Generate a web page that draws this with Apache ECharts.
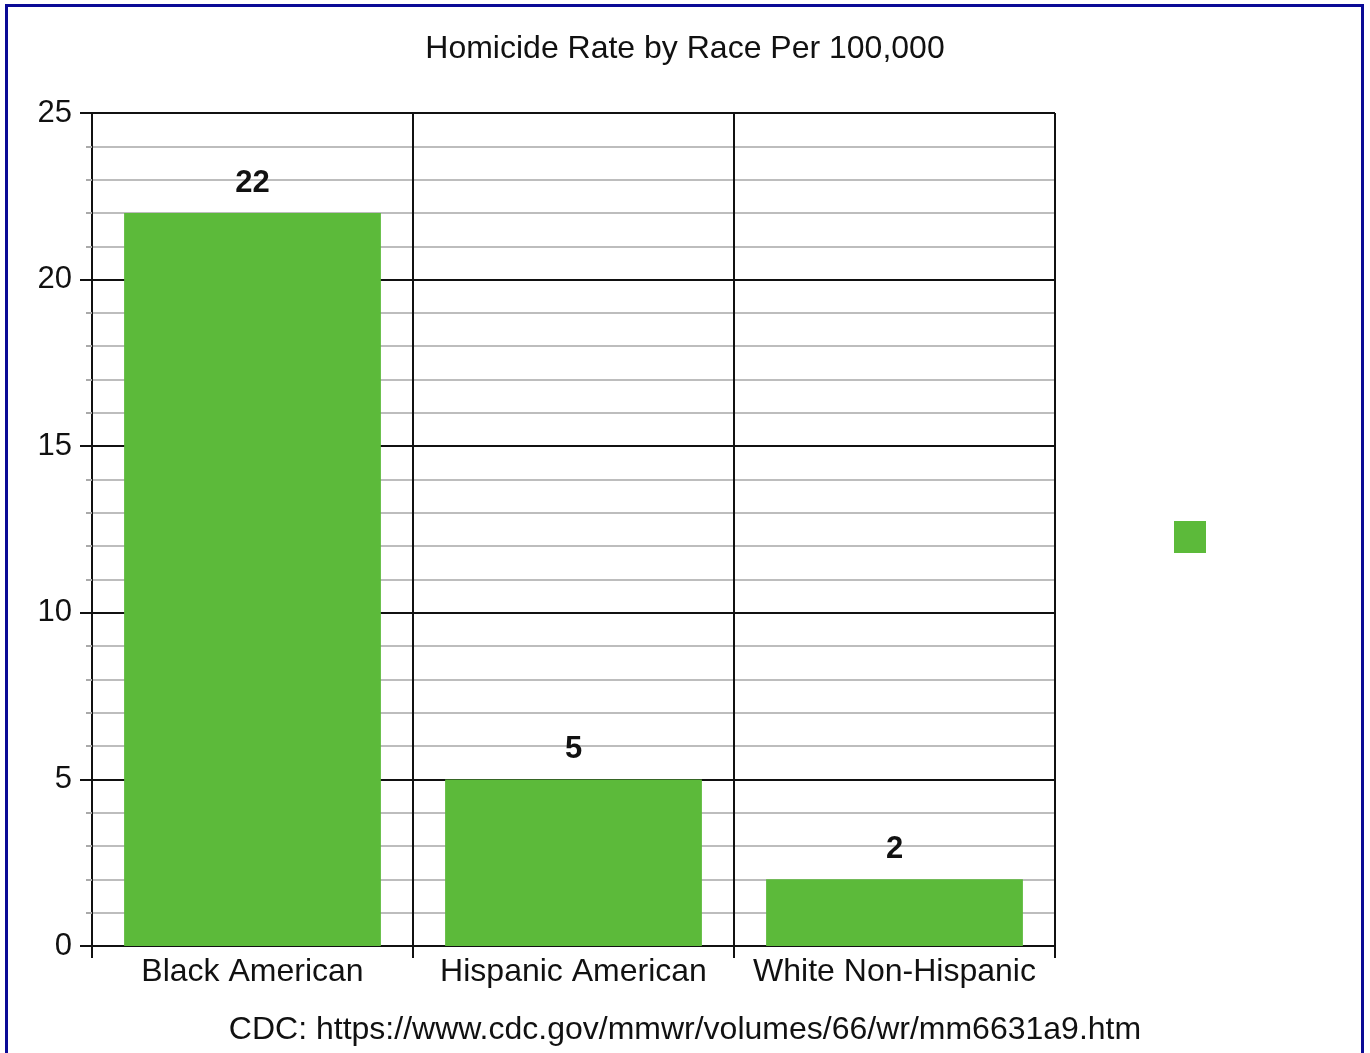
<!DOCTYPE html>
<html>
<head>
<meta charset="utf-8">
<script src="https://cdn.jsdelivr.net/npm/echarts@6/dist/echarts.min.js"></script>
<style>
html,body{margin:0;padding:0;background:#fff;}
#chart{width:1370px;height:1053px;}
</style>
</head>
<body>
<div id="chart"></div>
<script>
const categories = ['Black American', 'Hispanic American', 'White Non-Hispanic'];
const values = [22, 5, 2];
const yTicks = [0, 5, 10, 15, 20, 25];
const titleText = 'Homicide Rate by Race Per 100,000';
const sourceText = 'CDC: https://www.cdc.gov/mmwr/volumes/66/wr/mm6631a9.htm';
const seriesName = 'Homicide rate';

const FONT = '"Liberation Sans", Arial, Helvetica, sans-serif';
const chart = echarts.init(document.getElementById('chart'));
chart.setOption({
  backgroundColor: '#ffffff',
  animation: false,
  textStyle: { fontFamily: FONT },
  title: [
    { text: titleText, left: 'center', top: 28,
      textStyle: { fontFamily: FONT, fontSize: 32, fontWeight: 'normal', color: '#111' } },
    { text: sourceText, left: 'center', top: 1009,
      textStyle: { fontFamily: FONT, fontSize: 32, fontWeight: 'normal', color: '#111' } }
  ],
  graphic: [
    { type: 'polyline', silent: true,
      shape: { points: [[6.5, 1053], [6.5, 5.5], [1362.5, 5.5], [1362.5, 1053]] },
      style: { stroke: '#0a0a96', lineWidth: 3, fill: null } }
  ],
  legend: {
    left: 1169, top: 516, orient: 'vertical',
    itemWidth: 32, itemHeight: 32, icon: 'rect',
    formatter: function () { return ''; },
    data: [seriesName]
  },
  grid: { left: 92, right: 315, top: 113, bottom: 107, containLabel: false },
  xAxis: {
    type: 'category', data: categories,
    axisLine: { lineStyle: { color: '#111', width: 2 } },
    axisTick: { show: true, interval: 0, length: 12, lineStyle: { color: '#111', width: 2 } },
    splitLine: { show: true, interval: 0, lineStyle: { color: '#111', width: 2 } },
    axisLabel: { interval: 0, fontFamily: FONT, fontSize: 32, color: '#111', margin: 10 }
  },
  yAxis: {
    type: 'value', min: 0, max: 25, interval: 5,
    axisLine: { show: true, lineStyle: { color: '#111', width: 2 } },
    axisTick: { show: true, length: 12, lineStyle: { color: '#111', width: 2 } },
    minorTick: { show: true, splitNumber: 5, length: 6, lineStyle: { color: '#aaa', width: 2 } },
    splitLine: { show: true, lineStyle: { color: '#111', width: 2 } },
    minorSplitLine: { show: true, lineStyle: { color: '#bdbdbd', width: 2 } },
    axisLabel: { fontFamily: FONT, fontSize: 31, color: '#111', margin: 20,
      formatter: function (v) { return yTicks.indexOf(v) >= 0 ? String(v) : ''; } }
  },
  series: [{
    name: seriesName, type: 'bar', data: values,
    barCategoryGap: '20%',
    itemStyle: { color: '#5cba3a' },
    label: { show: true, position: 'top', distance: 14,
      fontFamily: FONT, fontSize: 31, fontWeight: 'bold', color: '#111' }
  }]
});
</script>
</body>
</html>
